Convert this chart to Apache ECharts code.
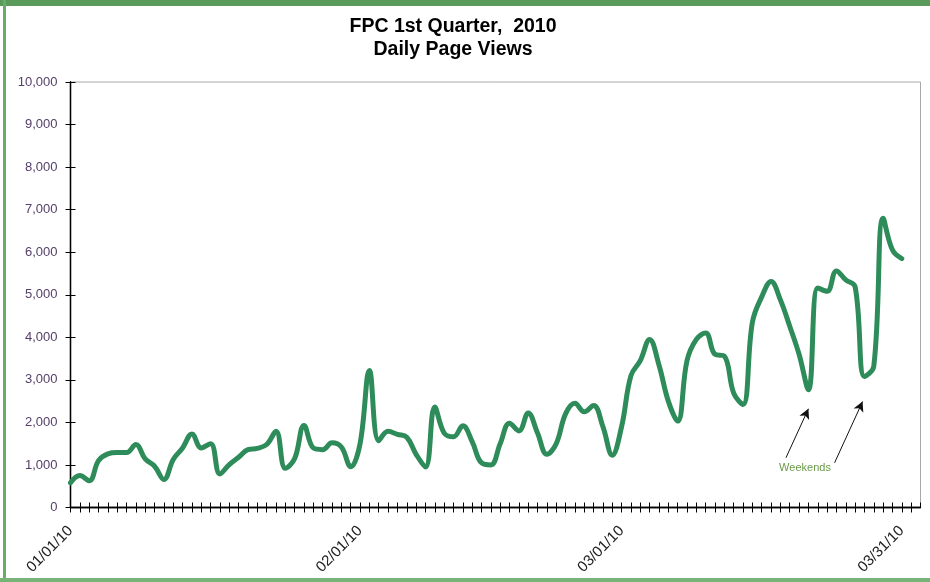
<!DOCTYPE html>
<html>
<head>
<meta charset="utf-8">
<script src="https://cdn.jsdelivr.net/npm/echarts@6/dist/echarts.min.js"></script>
<style>
html, body { margin: 0; padding: 0; background: #fff; }
#main { width: 930px; height: 582px; }
</style>
</head>
<body>
<div id="main"></div>
<script>
// daily page views, 01/01/10 .. 03/31/10 (day index 0..89)
var views = [
    580, 750, 630, 1100, 1260, 1290, 1290, 1480, 1140, 970,
    660, 1130, 1400, 1730, 1400, 1500, 790, 1010, 1180, 1360,
    1390, 1480, 1790, 920, 1150, 1930, 1400, 1360, 1520, 1420,
    960, 1500, 3220, 1570, 1790, 1720, 1650, 1250, 950, 2360,
    1750, 1660, 1920, 1550, 1050, 1000, 1500, 1980, 1800, 2220,
    1750, 1250, 1500, 2200, 2450, 2250, 2400, 1900, 1230, 1900,
    3100, 3450, 3950, 3350, 2500, 2030, 3450, 3950, 4100, 3600,
    3560, 2690, 2420, 4350, 4950, 5310, 4880, 4260, 3600, 2770,
    5160, 5080, 5560, 5350, 5190, 3080, 3320, 6800, 6050, 5850
];
var labelDays = [0, 31, 59, 89];
var labelTexts = ['01/01/10', '02/01/10', '03/01/10', '03/31/10'];

// weekend arrows: [day, value] start -> end
var arrowFrom = [[76.6, 1170], [81.8, 1050]];
var arrowTo = [[79.0, 2320], [84.8, 2490]];

var seriesData = views.map(function (v, i) { return [i, v]; });

function dayLabel(val) {
    var k = labelDays.indexOf(Math.round(val));
    return k >= 0 ? labelTexts[k] : '';
}

var plotBox = { left: 70.5, right: 9.5, top: 82, bottom: 74.5 };

var chart = echarts.init(document.getElementById('main'));

var option = {
    animation: false,
    textStyle: { fontFamily: 'Liberation Sans, Arial, sans-serif' },
    graphic: [
        { type: 'rect', shape: { x: 0, y: 0, width: 930, height: 6 }, style: { fill: '#5a9a5a' } },
        { type: 'rect', shape: { x: 3, y: 0, width: 3, height: 582 }, style: { fill: '#6aaa6a' } },
        { type: 'rect', shape: { x: 0, y: 578, width: 930, height: 4 }, style: { fill: '#78b478' } },
        { type: 'text', x: 453, y: 17, style: { text: 'FPC 1st Quarter,  2010', fontSize: 19.5, fontWeight: 'bold', fill: '#000', align: 'center', fontFamily: 'Liberation Sans, Arial' } },
        { type: 'text', x: 453, y: 40, style: { text: 'Daily Page Views', fontSize: 19.5, fontWeight: 'bold', fill: '#000', align: 'center', fontFamily: 'Liberation Sans, Arial' } },
        { type: 'text', x: 805, y: 462, style: { text: 'Weekends', fontSize: 11, fill: '#6a9a4a', align: 'center', fontFamily: 'Liberation Sans, Arial' } }
    ],
    grid: [
        {
            left: plotBox.left, right: plotBox.right, top: plotBox.top, bottom: plotBox.bottom,
            show: true, borderColor: '#a8a8a8', borderWidth: 1
        },
        // second grid on the same box, only for the inner half of the cross ticks
        {
            left: plotBox.left, right: plotBox.right, top: plotBox.top, bottom: plotBox.bottom
        }
    ],
    xAxis: [
        {
            gridIndex: 0,
            type: 'value', min: 0, max: 91, interval: 1,
            position: 'bottom',
            axisLine: { show: true, lineStyle: { color: '#000', width: 1.3 } },
            axisTick: { show: true, length: 5, lineStyle: { color: '#000' } },
            splitLine: { show: false },
            axisLabel: {
                rotate: 45, margin: 21, fontSize: 15, color: '#222',
                showMinLabel: true, showMaxLabel: false,
                formatter: dayLabel
            }
        },
        {
            gridIndex: 1,
            type: 'value', min: 0, max: 91, interval: 1,
            position: 'bottom',
            axisLine: { show: true, lineStyle: { color: '#000', width: 1.3 } },
            axisTick: { show: true, inside: true, length: 5, lineStyle: { color: '#000' } },
            splitLine: { show: false },
            axisLabel: { show: false }
        }
    ],
    yAxis: [
        {
            gridIndex: 0,
            type: 'value', min: 0, max: 10000, interval: 1000,
            position: 'left',
            axisLine: { show: true, lineStyle: { color: '#000', width: 1.3 } },
            axisTick: { show: true, length: 5, lineStyle: { color: '#000' } },
            splitLine: { show: false },
            axisLabel: {
                margin: 13, fontSize: 13, color: '#54406a',
                formatter: function (v) { return v.toLocaleString('en-US'); }
            }
        },
        {
            gridIndex: 1,
            type: 'value', min: 0, max: 10000, interval: 1000,
            position: 'left',
            axisLine: { show: true, lineStyle: { color: '#000', width: 1.3 } },
            axisTick: { show: true, inside: true, length: 5, lineStyle: { color: '#000' } },
            splitLine: { show: false },
            axisLabel: { show: false }
        }
    ],
    series: [
        {
            name: 'Page Views',
            type: 'line',
            xAxisIndex: 0,
            yAxisIndex: 0,
            data: seriesData,
            smooth: 0.4,
            showSymbol: false,
            lineStyle: { color: '#2e8b5a', width: 5, cap: 'round', join: 'round' },
            markLine: {
                silent: true,
                symbol: ['none', 'arrow'],
                symbolSize: [8, 10],
                label: { show: false },
                lineStyle: { color: '#111', width: 1, type: 'solid' },
                data: arrowFrom.map(function (p, i) {
                    return [{ coord: p }, { coord: arrowTo[i] }];
                })
            }
        },
        {
            // empty series so the tick-only grid gets its axes
            type: 'line',
            xAxisIndex: 1,
            yAxisIndex: 1,
            data: [],
            silent: true
        }
    ]
};

chart.setOption(option);
</script>
</body>
</html>
